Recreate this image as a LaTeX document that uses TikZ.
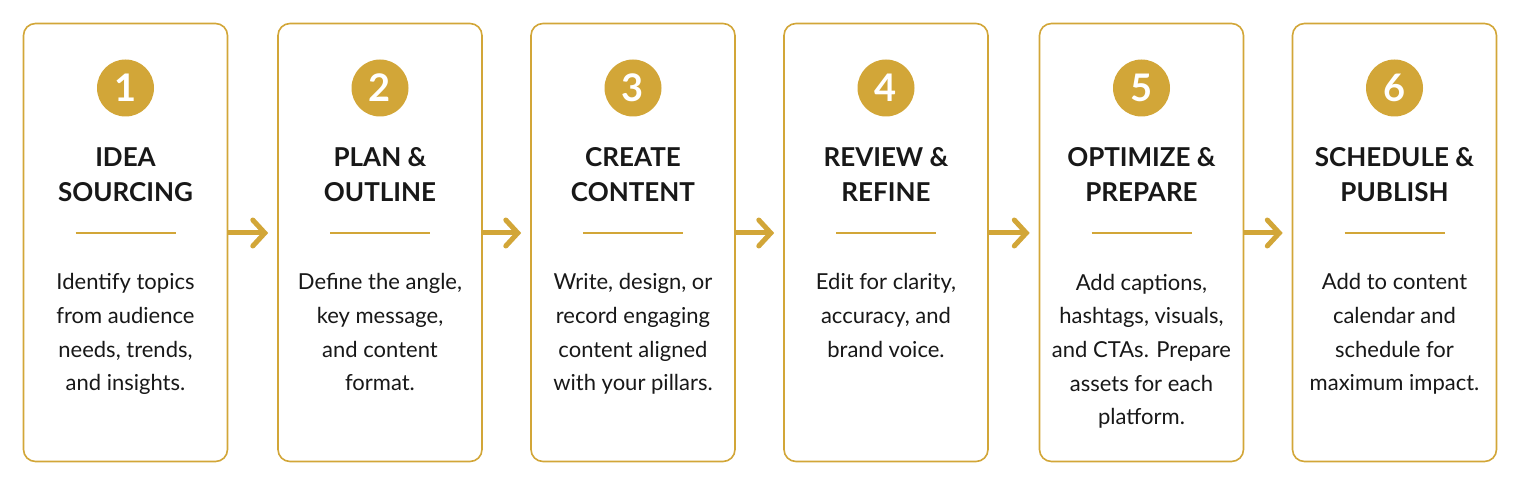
\documentclass[tikz,border=0pt]{standalone}
\usepackage{fontspec}
\setmainfont{Lato}
\usepackage{xcolor}
\usetikzlibrary{arrows.meta, positioning, calc}
\definecolor{gold}{RGB}{210,166,56}
\definecolor{ink}{RGB}{24,24,24}

\begin{document}
\begin{tikzpicture}[x=1pt, y=-1pt]
    \tikzstyle{card} = [rectangle, rounded corners=12pt, minimum width=204pt, minimum height=438pt, draw=gold, line width=1.6pt, fill=white]
    \tikzstyle{badge} = [circle, fill=gold, minimum size=57pt, inner sep=0pt, text=white, font=\bfseries\fontsize{38}{38}\selectfont]
    \tikzstyle{title} = [anchor=base, align=center, text=ink, font=\bfseries\fontsize{26}{35}\selectfont]
    \tikzstyle{desc} = [anchor=base, align=center, text=ink, font=\fontsize{22}{33.7}\selectfont]
    \tikzstyle{rule} = [gold, line width=2.2pt]
    \tikzstyle{arrow} = [gold, line width=5pt, -{Straight Barb[length=12pt, width=26pt, line cap=round]}, shorten >=9pt]

    \useasboundingbox (0,0) rectangle (1519,486);

    % step cards
    \node[card] (card1) at (125.5,242.5) {};
    \node[card] (card2) at (380,242.5) {};
    \node[card] (card3) at (633,242.5) {};
    \node[card] (card4) at (886,242.5) {};
    \node[card] (card5) at (1141.5,242.5) {};
    \node[card] (card6) at (1394.5,242.5) {};

    % numbers
    \node[badge] (num1) at (125.5,88) {1};
    \node[badge] (num2) at (380,88) {2};
    \node[badge] (num3) at (633,88) {3};
    \node[badge] (num4) at (886,88) {4};
    \node[badge] (num5) at (1141.5,88) {5};
    \node[badge] (num6) at (1394.5,88) {6};

    % titles (base = last line)
    \node[title] (title1) at (125.5,202) {IDEA\\SOURCING};
    \node[title] (title2) at (380,202) {PLAN \&\\OUTLINE};
    \node[title] (title3) at (633,202) {CREATE\\CONTENT};
    \node[title] (title4) at (886,202) {REVIEW \&\\REFINE};
    \node[title] (title5) at (1141.5,202) {OPTIMIZE \&\\PREPARE};
    \node[title] (title6) at (1394.5,202) {SCHEDULE \&\\PUBLISH};

    % separators
    \draw[rule] (75.5,233) -- (175.5,233);
    \draw[rule] (330,233) -- (430,233);
    \draw[rule] (583,233) -- (683,233);
    \draw[rule] (836,233) -- (936,233);
    \draw[rule] (1091.5,233) -- (1191.5,233);
    \draw[rule] (1344.5,233) -- (1444.5,233);

    % descriptions (base = last line)
    \node[desc] (desc1) at (125.5,391) {Identify topics\\from audience\\needs, trends,\\and insights.};
    \node[desc] (desc2) at (380,391) {Define the angle,\\key message,\\and content\\format.};
    \node[desc] (desc3) at (633,391) {Write, design, or\\record engaging\\content aligned\\with your pillars.};
    \node[desc] (desc4) at (886,357.4) {Edit for clarity,\\accuracy, and\\brand voice.};
    \node[desc] (desc5) at (1141.5,424.8) {Add captions,\\hashtags, visuals,\\and CTAs. Prepare\\assets for each\\platform.};
    \node[desc] (desc6) at (1394.5,391) {Add to content\\calendar and\\schedule for\\maximum impact.};

    % flow arrows
    \draw[arrow] ($(card1.east)+(0,-9.5)$) -- ($(card2.west)+(0,-9.5)$);
    \draw[arrow] ($(card2.east)+(0,-9.5)$) -- ($(card3.west)+(0,-9.5)$);
    \draw[arrow] ($(card3.east)+(0,-9.5)$) -- ($(card4.west)+(0,-9.5)$);
    \draw[arrow] ($(card4.east)+(0,-9.5)$) -- ($(card5.west)+(0,-9.5)$);
    \draw[arrow] ($(card5.east)+(0,-9.5)$) -- ($(card6.west)+(0,-9.5)$);
\end{tikzpicture}
\end{document}
